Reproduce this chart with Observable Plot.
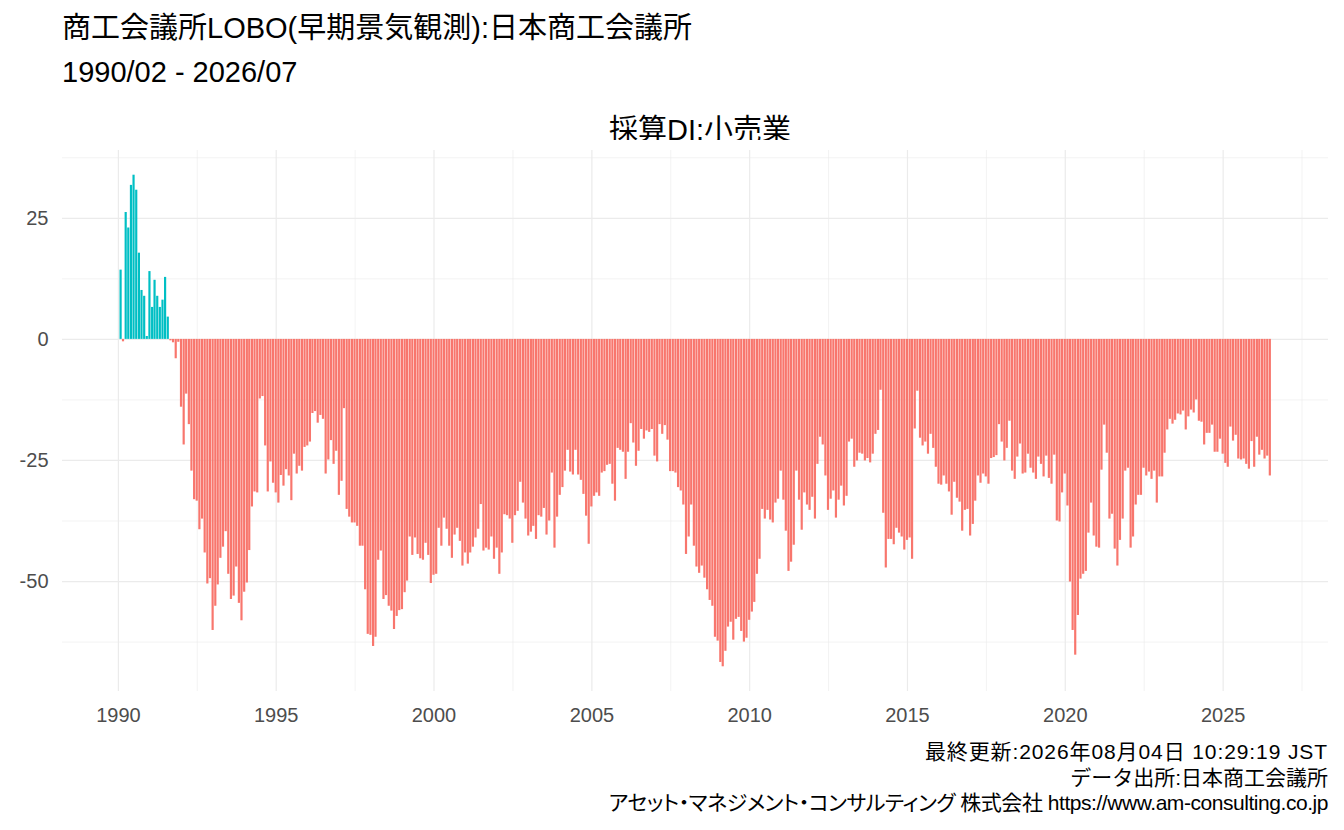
<!DOCTYPE html>
<html><head><meta charset="utf-8">
<script src="https://cdn.jsdelivr.net/npm/d3@7"></script>
<script src="https://cdn.jsdelivr.net/npm/@observablehq/plot@0.6"></script>
<style>
body{margin:0;background:#fff;font-family:"Liberation Sans","Noto Sans CJK JP",sans-serif;}
#wrap{position:relative;width:1344px;height:830px;overflow:hidden;}
.t{position:absolute;white-space:nowrap;color:#000;line-height:1;}
#chart{position:absolute;left:0;top:140px;}
#cap div:nth-child(1){letter-spacing:0.9px;}
#cap div:nth-child(3){font-feature-settings:"palt" 1;letter-spacing:-0.45px;}
</style></head><body><div id="wrap">
<div class="t" id="title" style="left:62px;top:14px;font-size:29px"></div>
<div class="t" id="sub" style="left:62px;top:58px;font-size:29px"></div>
<div class="t" id="ptitle" style="left:62px;width:1276px;top:116px;font-size:29px;text-align:center"></div>
<div id="chart"></div>
<div class="t" id="cap" style="right:16px;top:739px;text-align:right;font-size:21px;line-height:25.5px"></div>
</div>
<script>
const titleText = "商工会議所LOBO(早期景気観測):日本商工会議所";
const subtitleText = "1990/02 - 2026/07";
const panelTitle = "採算DI:小売業";
const captionLines = [
  "最終更新:2026年08月04日 10:29:19 JST",
  "データ出所:日本商工会議所",
  "アセット・マネジメント・コンサルティング 株式会社 https://www.am-consulting.co.jp"
];
const startYear = 1990, startMonth = 2;
// 1990/02 - 1999/12
const di1990s = [
  14.3, -0.5, 26.2, 23.0, 31.8, 33.9, 30.8, 17.8, 10.1, 8.9, 0.6,
  14.0, 6.6, 12.2, 8.9, 6.6, 8.1, 12.8, 4.6, -0.3, -0.7, -4.0, -0.6,
  -14.0, -21.8, -11.3, -17.6, -27.2, -33.1, -33.4, -39.3, -37.1, -44.1, -50.5, -49.4,
  -60.1, -55.1, -50.7, -45.2, -42.9, -39.7, -48.5, -53.7, -53.0, -47.0, -54.5, -58.1,
  -52.2, -50.3, -43.6, -34.6, -31.5, -31.7, -12.3, -11.8, -22.0, -31.5, -25.3, -29.7,
  -31.7, -33.8, -28.1, -30.3, -26.9, -28.2, -33.3, -23.7, -27.8, -26.2, -27.2, -22.3,
  -22.0, -21.2, -15.3, -14.9, -17.3, -15.7, -16.5, -27.8, -24.9, -20.9, -25.8, -23.1,
  -32.2, -29.3, -14.3, -35.1, -36.7, -37.9, -37.9, -38.6, -42.7, -42.7, -51.7, -60.9,
  -61.1, -63.4, -61.5, -45.6, -43.7, -53.7, -52.9, -55.1, -56.1, -59.9, -57.2, -56.0,
  -55.8, -52.3, -49.9, -40.8, -44.6, -41.0, -44.4, -45.3, -45.6, -42.1, -44.6, -50.4
];
// 2000/01 - 2009/12
const di2000s = [
  -48.7, -48.5, -39.0, -42.7, -36.9, -39.2, -42.7, -45.2, -40.4, -39.0, -41.7, -46.8,
  -44.1, -46.4, -44.1, -42.9, -41.0, -39.2, -34.1, -43.7, -43.1, -43.5, -40.8, -45.4,
  -43.1, -48.5, -44.1, -36.2, -36.4, -37.1, -42.1, -36.4, -35.5, -29.5, -33.8, -37.1,
  -40.6, -39.8, -38.6, -41.3, -36.4, -36.7, -34.9, -40.4, -37.5, -27.6, -43.1, -36.7,
  -32.2, -30.6, -27.2, -22.9, -27.4, -28.0, -22.9, -28.0, -29.1, -32.0, -36.5, -42.3,
  -34.6, -32.4, -31.7, -32.4, -27.6, -27.3, -26.0, -25.8, -29.9, -33.4, -22.5, -22.9,
  -23.3, -28.9, -23.3, -17.4, -21.4, -26.2, -23.1, -18.6, -20.6, -18.9, -19.2, -18.6,
  -24.1, -25.3, -17.6, -19.6, -17.8, -20.8, -27.3, -27.3, -27.6, -30.6, -31.3, -34.2,
  -44.4, -40.8, -34.2, -42.7, -47.0, -48.3, -46.8, -49.3, -51.7, -53.9, -55.1, -61.5,
  -62.3, -66.7, -67.6, -64.4, -59.4, -58.4, -62.1, -57.8, -57.4, -60.3, -62.5, -61.7
];
// 2010/01 - 2019/12
const di2010s = [
  -58.0, -56.3, -54.3, -48.5, -45.4, -35.1, -37.1, -35.3, -37.3, -37.9, -33.8, -33.0,
  -27.2, -33.2, -39.6, -47.9, -46.0, -42.5, -27.2, -33.2, -39.4, -31.7, -34.2, -35.3,
  -32.6, -37.1, -25.8, -20.2, -21.8, -28.2, -35.3, -33.0, -31.3, -36.9, -33.2, -30.3,
  -34.4, -32.4, -21.2, -20.6, -26.4, -25.1, -23.5, -23.7, -25.1, -24.6, -25.5, -23.7,
  -19.6, -18.8, -10.5, -35.9, -47.2, -41.3, -41.3, -42.4, -39.0, -40.0, -40.8, -43.5,
  -41.5, -41.0, -45.4, -18.5, -10.7, -20.4, -22.0, -21.2, -23.7, -19.6, -22.5, -26.4,
  -29.9, -30.1, -28.2, -29.9, -31.5, -36.3, -29.5, -32.8, -33.6, -39.6, -35.3, -35.1,
  -40.6, -38.2, -33.4, -28.2, -29.7, -27.8, -28.4, -29.9, -24.6, -24.4, -24.0, -17.6,
  -21.2, -25.1, -22.5, -16.9, -27.2, -28.9, -24.3, -21.6, -27.8, -27.6, -23.7, -26.6,
  -27.6, -28.9, -24.3, -25.8, -28.4, -24.1, -28.7, -29.9, -23.9, -37.5, -37.7, -31.7
];
// 2020/01 - 2026/07
const di2020s = [
  -27.8, -34.4, -50.1, -60.1, -65.2, -57.0, -49.5, -48.5, -47.9, -40.0, -33.8, -40.6,
  -42.9, -43.1, -27.0, -17.7, -23.5, -37.1, -36.1, -43.3, -46.8, -41.5, -37.1, -27.2,
  -26.6, -43.1, -40.8, -34.2, -32.2, -32.2, -26.6, -28.2, -27.4, -28.9, -27.2, -33.8,
  -28.4, -28.4, -23.5, -18.7, -16.5, -17.5, -16.7, -15.4, -15.6, -14.8, -18.7, -16.0,
  -14.6, -15.2, -12.5, -16.9, -17.1, -21.8, -19.4, -19.4, -17.7, -23.3, -23.3, -20.6,
  -23.7, -25.6, -26.4, -18.1, -21.0, -19.8, -24.7, -24.9, -24.7, -25.8, -26.8, -21.1,
  -26.4, -20.2, -23.9, -22.9, -24.7, -24.1, -28.2
];
const xTickYears = [1990, 1995, 2000, 2005, 2010, 2015, 2020, 2025];
const xMinorYears = [1992.5, 1997.5, 2002.5, 2007.5, 2012.5, 2017.5, 2022.5, 2027.5];
const yTicks = [-50, -25, 0, 25];
const yMinor = [-62.5, -37.5, -12.5, 12.5, 37.5];

document.getElementById("title").textContent = titleText;
document.getElementById("sub").textContent = subtitleText;
document.getElementById("ptitle").textContent = panelTitle;
const cap = document.getElementById("cap");
captionLines.forEach(s => { const el = document.createElement("div"); el.textContent = s; cap.appendChild(el); });

const values = [...di1990s, ...di2000s, ...di2010s, ...di2020s];
const data = values.map((v, i) => ({date: new Date(Date.UTC(startYear, startMonth - 1 + i, 1)), value: v}));
const DAY = 864e5;
const halfW = 12.6 * DAY; // ggplot width 0.9 of 28-day resolution
const yearDate = y => new Date(Date.UTC(Math.floor(y), 0, 1) + (y % 1) * 365.25 * DAY);

const pos = data.filter(d => d.value >= 0);
const neg = data.filter(d => d.value < 0);

const chart = Plot.plot({
  width: 1344,
  height: 600,
  marginLeft: 62,
  marginRight: 16,
  marginTop: 10,
  marginBottom: 49,
  style: {fontFamily: '"Liberation Sans","Noto Sans CJK JP",sans-serif', fontSize: "20px", color: "#4d4d4d", background: "#fff"},
  x: {type: "utc", domain: [yearDate(1988.23), yearDate(2028.34)]},
  y: {domain: [-72.7, 39.0]},
  marks: [
    Plot.ruleY(yMinor, {stroke: "#ebebeb", strokeWidth: 0.6}),
    Plot.ruleX(xMinorYears.map(yearDate), {stroke: "#ebebeb", strokeWidth: 0.6}),
    Plot.ruleY(yTicks, {stroke: "#ebebeb", strokeWidth: 1.2}),
    Plot.ruleX(xTickYears.map(yearDate), {stroke: "#ebebeb", strokeWidth: 1.2}),
    Plot.rectY(pos, {x1: d => new Date(+d.date - halfW), x2: d => new Date(+d.date + halfW), y: "value", fill: "#00BFC4"}),
    Plot.rectY(neg, {x1: d => new Date(+d.date - halfW), x2: d => new Date(+d.date + halfW), y: "value", fill: "#F8766D"}),
    Plot.axisX(xTickYears.map(yearDate), {tickFormat: d => String(d.getUTCFullYear()), tickSize: 0, tickPadding: 16, fontSize: 20, label: null}),
    Plot.axisY(yTicks, {tickFormat: d => String(d), tickSize: 0, tickPadding: 14, fontSize: 20, label: null})
  ]
});
document.getElementById("chart").appendChild(chart);
</script>
</body></html>
